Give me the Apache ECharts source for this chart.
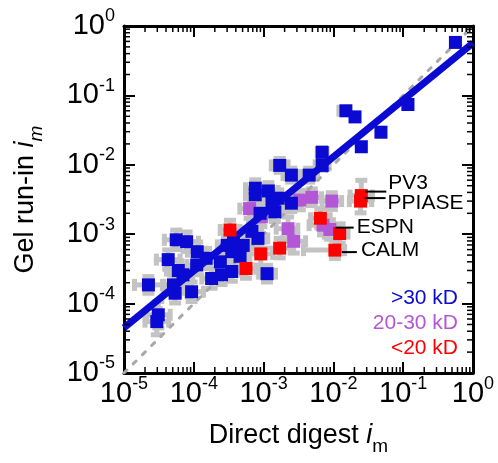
<!DOCTYPE html>
<html>
<head>
<meta charset="utf-8">
<script src="https://cdn.jsdelivr.net/npm/echarts@6/dist/echarts.min.js"></script>
<style>html,body{margin:0;padding:0;background:#fff}#c{width:498px;height:463px}</style>
</head>
<body>
<div id="c"></div>
<script>
// ---- data ----
const decadeTicks = [1e-5, 1e-4, 1e-3, 1e-2, 1e-1, 1];
const blueX = [0.56, 0.117, 0.0151, 0.0204, 0.048, 0.0251, 0.0069, 0.0069, 0.0017, 0.0025, 0.0045,
  0.00076, 0.00117, 0.00076, 0.00162, 0.0025, 0.00145, 0.00089, 0.00068, 0.00083, 0.00037, 0.00035,
  0.00046, 0.00035, 0.00112, 0.000056, 0.000079, 0.000043, 0.00006, 0.0000224, 0.000093, 0.000054,
  0.000031, 0.0000295, 0.00011, 0.00015, 0.00018, 0.00025, 0.00024, 0.00051, 0.0003, 0.00007,
  0.000051, 0.00132, 0.000112];
const blueY = [0.58, 0.074, 0.060, 0.049, 0.0295, 0.0182, 0.0151, 0.0098, 0.0098, 0.0071, 0.0071,
  0.0046, 0.0042, 0.0037, 0.0033, 0.0028, 0.0021, 0.0020, 0.0011, 0.00087, 0.00078, 0.00056,
  0.00048, 0.00029, 0.00027, 0.00083, 0.00078, 0.00043, 0.0003, 0.000186, 0.000148, 0.000141,
  0.000069, 0.000055, 0.00036, 0.00045, 0.00023, 0.00026, 0.0004, 0.00069, 0.00069, 0.00026,
  0.000186, 0.0028, 0.00056];
// error bar half-lengths in decades: [x low, x high, y low, y high]
const blueErr = [[0.04,0.04,0.04,0.04],[0.06,0.04,0.04,0.04],[0.1,0.04,0.05,0.05],[0.05,0.05,0.05,0.05],[0.05,0.05,0.05,0.05],
  [0.05,0.05,0.05,0.05],[0.07,0.07,0.07,0.07],[0.1,0.1,0.07,0.07],[0.12,0.12,0.1,0.1],[0.12,0.12,0.1,0.1],[0.12,0.12,0.1,0.1],
  [0.14,0.14,0.12,0.12],[0.14,0.14,0.12,0.12],[0.14,0.14,0.12,0.12],[0.14,0.14,0.12,0.12],[0.14,0.14,0.12,0.12],[0.14,0.14,0.14,0.14],
  [0.14,0.14,0.14,0.14],[0.14,0.14,0.14,0.14],[0.14,0.14,0.14,0.14],[0.14,0.14,0.14,0.14],[0.14,0.14,0.14,0.14],
  [0.14,0.14,0.14,0.14],[0.14,0.14,0.14,0.14],[0.12,0.12,0.12,0.12],[0.17,0.17,0.14,0.14],[0.17,0.17,0.14,0.14],
  [0.17,0.17,0.14,0.14],[0.17,0.17,0.14,0.14],[0.2,0.2,0.12,0.12],[0.17,0.17,0.14,0.14],[0.17,0.17,0.14,0.14],
  [0.17,0.17,0.19,0.19],[0.17,0.17,0.19,0.19],[0.14,0.14,0.14,0.14],[0.14,0.14,0.14,0.14],[0.14,0.14,0.14,0.14],
  [0.14,0.14,0.14,0.14],[0.14,0.14,0.14,0.14],[0.14,0.14,0.14,0.14],[0.14,0.14,0.14,0.14],[0.14,0.14,0.14,0.14],
  [0.14,0.14,0.14,0.14],[0.14,0.14,0.12,0.12],[0.14,0.14,0.14,0.14]];
const purpleX = [0.00063, 0.00093, 0.0033, 0.0049, 0.0095, 0.00224, 0.0027, 0.0071, 0.0089];
const purpleY = [0.00234, 0.00178, 0.0031, 0.0034, 0.0030, 0.0012, 0.00079, 0.00135, 0.00117];
const purpleErr = [[0.14,0.14,0.14,0.14],[0.14,0.14,0.14,0.14],[0.14,0.14,0.14,0.14],[0.14,0.14,0.12,0.12],[0.14,0.14,0.12,0.12],
  [0.17,0.14,0.17,0.17],[0.17,0.17,0.17,0.17],[0.2,0.14,0.14,0.14],[0.14,0.14,0.14,0.14]];
const redX = [0.0251, 0.0245, 0.0065, 0.0123, 0.0105, 0.0017, 0.00091, 0.00033, 0.00056];
const redY = [0.0036, 0.0030, 0.0017, 0.00102, 0.00059, 0.00063, 0.00052, 0.00115, 0.00032];
const redErr = [[0.16,0.16,0.1,0.22],[0.16,0.16,0.17,0.1],[0.14,0.14,0.14,0.14],[0.22,0.12,0.14,0.14],[0.45,0.14,0.12,0.14],
  [0.27,0.17,0.14,0.14],[0.17,0.17,0.17,0.17],[0.14,0.14,0.14,0.14],[0.14,0.14,0.14,0.14]];
const redNames = ['PV3', 'PPIASE', '', 'ESPN', 'CALM', '', '', '', ''];
const fitX = [1e-5, 1];
const fitY = [4.5e-5, 0.57];
const diagX = [1e-5, 1];
const diagY = [1e-5, 1];
const legendTexts = ['>30 kD', '20-30 kD', '<20 kD'];

// ---- styling ----
const FONT = '"Liberation Sans", Arial, Helvetica, sans-serif';
const BLUE = '#0a0ad2', PURPLE = '#b357d6', RED = '#ff0000', GRAY = '#c3c3c3';
const legendColors = [BLUE, PURPLE, RED];
const MS = 13;

const pts = (xs, ys) => xs.map((x, i) => [x, ys[i]]);
const errRows = [];
[[blueX, blueY, blueErr], [purpleX, purpleY, purpleErr], [redX, redY, redErr]].forEach(([xs, ys, es]) => {
  xs.forEach((x, i) => errRows.push([x, ys[i]].concat(es[i])));
});

function errRender(params, api) {
  const x = api.value(0), y = api.value(1);
  const xl = api.value(2), xh = api.value(3), yl = api.value(4), yh = api.value(5);
  const L = api.coord([x / Math.pow(10, xl), y]);
  const R = api.coord([x * Math.pow(10, xh), y]);
  const B = api.coord([x, y / Math.pow(10, yl)]);
  const T = api.coord([x, y * Math.pow(10, yh)]);
  const cap = 6;
  const st = { stroke: GRAY, lineWidth: 5 };
  const ln = (x1, y1, x2, y2) => ({ type: 'line', shape: { x1, y1, x2, y2 }, style: st });
  return { type: 'group', children: [
    ln(L[0], L[1], R[0], R[1]), ln(B[0], B[1], T[0], T[1]),
    ln(L[0], L[1] - cap, L[0], L[1] + cap), ln(R[0], R[1] - cap, R[0], R[1] + cap),
    ln(B[0] - cap, B[1], B[0] + cap, B[1]), ln(T[0] - cap, T[1], T[0] + cap, T[1])
  ]};
}

function minorRender(params, api) {
  const cs = params.coordSys;
  const kids = [];
  const st = { stroke: '#000', lineWidth: 1.5 };
  const len = 6;
  for (let k = 0; k < decadeTicks.length - 1; k++) {
    for (let m = 2; m <= 9; m++) {
      const v = m * decadeTicks[k];
      const px = api.coord([v, decadeTicks[0]])[0];
      const py = api.coord([decadeTicks[0], v])[1];
      kids.push({ type: 'line', shape: { x1: px, y1: cs.y + cs.height, x2: px, y2: cs.y + cs.height - len }, style: st });
      kids.push({ type: 'line', shape: { x1: px, y1: cs.y, x2: px, y2: cs.y + len }, style: st });
      kids.push({ type: 'line', shape: { x1: cs.x, y1: py, x2: cs.x + len, y2: py }, style: st });
      kids.push({ type: 'line', shape: { x1: cs.x + cs.width, y1: py, x2: cs.x + cs.width - len, y2: py }, style: st });
    }
  }
  return { type: 'group', children: kids };
}

const annotLayout = {
  PV3:    { l1: 4, l2: 25, ly: -4, tx: 27, ty: -12 },
  PPIASE: { l1: 4, l2: 25, ly: -3, tx: 27, ty: 2 },
  ESPN:   { l1: -4, l2: 14, ly: -6, tx: 17, ty: -6 },
  CALM:   { l1: 7, l2: 22, ly: 2, tx: 26, ty: 0 }
};
const annotRows = [];
redNames.forEach((n, i) => { if (n) annotRows.push({ value: [redX[i], redY[i]], name: n }); });
function annotRender(params, api) {
  const name = annotRows[params.dataIndex].name;
  const p = api.coord([api.value(0), api.value(1)]);
  const a = annotLayout[name];
  return { type: 'group', children: [
    { type: 'line', shape: { x1: p[0] + a.l1, y1: p[1] + a.ly, x2: p[0] + a.l2, y2: p[1] + a.ly }, style: { stroke: '#000', lineWidth: 2 } },
    { type: 'text', x: p[0] + a.tx, y: p[1] + a.ty, style: { text: name, fill: '#000', font: '21px ' + FONT, textAlign: 'left', textVerticalAlign: 'middle' } }
  ]};
}

const tickFmt = v => '{b|10}{s|' + Math.round(Math.log10(v)) + '}';
const tickRich = {
  b: { fontSize: 29, lineHeight: 29, fontFamily: FONT, color: '#000', verticalAlign: 'bottom' },
  s: { fontSize: 18, lineHeight: 18, fontFamily: FONT, color: '#000', padding: [0, 0, 15, 0], verticalAlign: 'bottom' }
};
function axisBase(pos, showLabel) {
  return {
    type: 'log', logBase: 10, min: 1e-5, max: 1, position: pos,
    axisLine: { show: true, onZero: false, lineStyle: { color: '#000', width: 3 } },
    axisTick: { show: true, inside: true, length: 11, lineStyle: { color: '#000', width: 2 } },
    splitLine: { show: false },
    axisLabel: { show: showLabel, formatter: tickFmt, rich: tickRich, showMinLabel: true, showMaxLabel: true }
  };
}
const xBottom = Object.assign(axisBase('bottom', true), {
  name: '{t|Direct digest }{i|i}{m|m}', nameLocation: 'middle', nameGap: 49,
  nameTextStyle: { rich: {
    t: { fontSize: 27, fontFamily: FONT, color: '#000', padding: [0, 0, 7, 0], verticalAlign: 'bottom' },
    i: { fontSize: 27, fontFamily: FONT, color: '#000', fontStyle: 'italic', padding: [0, 0, 7, 0], verticalAlign: 'bottom' },
    m: { fontSize: 19, fontFamily: FONT, color: '#000', verticalAlign: 'bottom' } } }
});
xBottom.axisLabel.margin = 6;
const yLeft = Object.assign(axisBase('left', true), {
  name: '{t|Gel run-in }{i|i}{m|m}', nameLocation: 'middle', nameGap: 78,
  nameTextStyle: { rich: {
    t: { fontSize: 27, fontFamily: FONT, color: '#000', padding: [0, 0, 7, 0], verticalAlign: 'bottom' },
    i: { fontSize: 27, fontFamily: FONT, color: '#000', fontStyle: 'italic', padding: [0, 0, 7, 0], verticalAlign: 'bottom' },
    m: { fontSize: 19, fontFamily: FONT, color: '#000', fontStyle: 'italic', verticalAlign: 'bottom' } } }
});
yLeft.axisLabel.margin = 9;

const chart = echarts.init(document.getElementById('c'), null, { renderer: 'canvas' });
chart.setOption({
  animation: false,
  backgroundColor: '#fff',
  grid: { left: 124, right: 25, top: 26, bottom: 90, containLabel: false },
  xAxis: [xBottom, axisBase('top', false)],
  yAxis: [yLeft, axisBase('right', false)],
  graphic: legendTexts.map((t, i) => ({
    type: 'text', right: 40, top: 288 + i * 25, z: 100,
    style: { text: t, fill: legendColors[i], font: '21px ' + FONT, textAlign: 'right' }
  })),
  series: [
    { type: 'custom', renderItem: errRender, data: errRows, encode: { x: 0, y: 1 }, z: 1, silent: true },
    { type: 'line', data: pts(diagX, diagY), showSymbol: false, z: 2, silent: true,
      lineStyle: { color: '#a8a8a8', width: 3, type: [4, 9], cap: 'round' } },
    { type: 'scatter', data: pts(purpleX, purpleY), symbol: 'rect', symbolSize: MS, z: 3, itemStyle: { color: PURPLE, opacity: 1 } },
    { type: 'scatter', data: pts(blueX, blueY), symbol: 'rect', symbolSize: MS, z: 4, itemStyle: { color: BLUE, opacity: 1 } },
    { type: 'line', data: pts(fitX, fitY), showSymbol: false, z: 5, silent: true, lineStyle: { color: BLUE, width: 7 } },
    { type: 'scatter', data: pts(redX, redY), symbol: 'rect', symbolSize: MS, z: 6, itemStyle: { color: RED, opacity: 1 } },
    { type: 'custom', renderItem: annotRender, data: annotRows, encode: { x: 0, y: 1 }, z: 7, silent: true, clip: false },
    { type: 'custom', renderItem: minorRender, data: [[1e-5, 1e-5]], encode: { x: 0, y: 1 }, z: 8, silent: true, clip: false }
  ]
});
</script>
</body>
</html>
